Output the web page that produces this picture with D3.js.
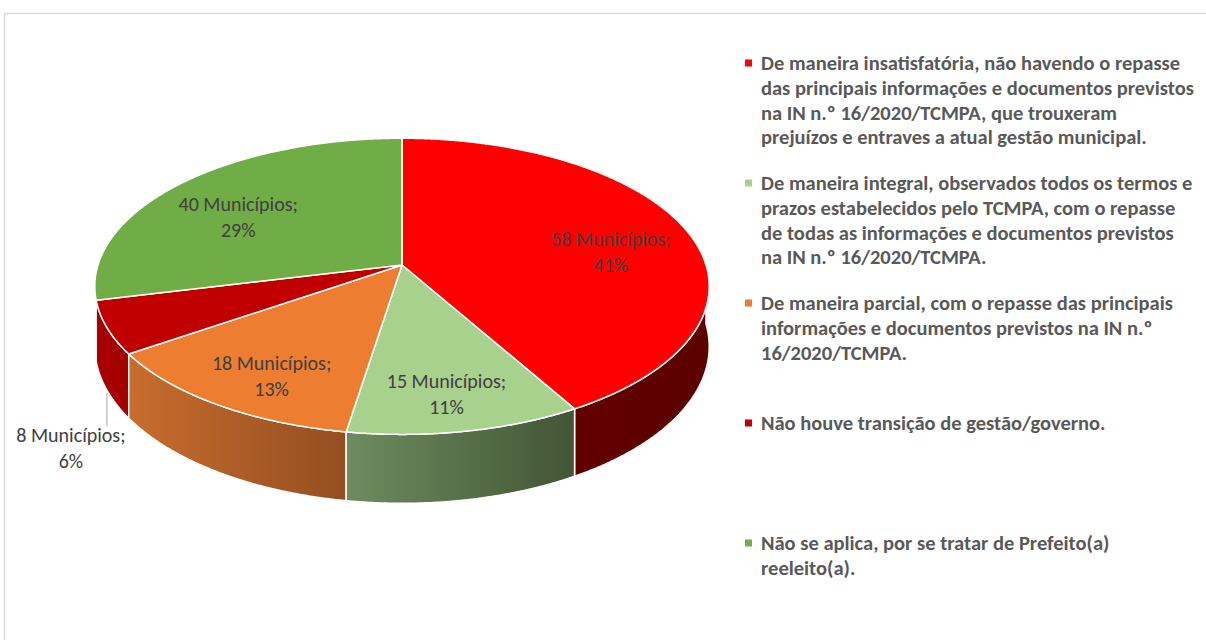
<!DOCTYPE html>
<html>
<head>
<meta charset="utf-8">
<script src="https://cdn.jsdelivr.net/npm/d3@7/dist/d3.min.js"></script>
<style>
  body { margin: 0; background: #fff; }
  svg { display: block; }
</style>
</head>
<body>
<svg id="chart"></svg>
<script>
// slice data, in drawing order (clockwise from 12 o'clock)
const legendLines = [
    ["De maneira insatisfatória, não havendo o repasse",
     "das principais informações e documentos previstos",
     "na IN n.º 16/2020/TCMPA, que trouxeram",
     "prejuízos e entraves a atual gestão municipal."],
    ["De maneira integral, observados todos os termos e",
     "prazos estabelecidos pelo TCMPA, com o repasse",
     "de todas as informações e documentos previstos",
     "na IN n.º 16/2020/TCMPA."],
    ["De maneira parcial, com o repasse das principais",
     "informações e documentos previstos na IN n.º",
     "16/2020/TCMPA."],
    ["Não houve transição de gestão/governo."],
    ["Não se aplica, por se tratar de Prefeito(a)",
     "reeleito(a)."]
];
const counts = [58, 15, 18, 8, 40];
const countLabels = ["58 Municípios;", "15 Municípios;", "18 Municípios;", "8 Municípios;", "40 Municípios;"];
const percentLabels = ["41%", "11%", "13%", "6%", "29%"];
const topColors = ["#ff0000", "#a9d18e", "#ed7d31", "#c00000", "#70ad47"];
const sideColors = [["#620000", "#5c0000"], ["#6e8c5f", "#425536"], ["#c86d2e", "#934e20"], ["#a90000", "#a30000"], ["#4f7a32", "#3d5f27"]];

const width = 1206, height = 640;

const svg = d3.select('#chart')
    .attr('width', width)
    .attr('height', height);

// frame of the chart area
svg.append('rect')
    .attr('x', 4.5)
    .attr('y', 13.5)
    .attr('width', width + 20)
    .attr('height', height + 20)
    .attr('fill', 'none')
    .attr('stroke', '#d9d9d9')
    .attr('stroke-width', 1.5);

// perspective view of the pie
const cx = 402, cy = 265;
const rx = 304, ry = 145, persp = 0.144, depth = 59;

function project(theta, r, z) {
    const u = -Math.cos(theta) * r;
    const s = 1 / (1 - persp * u);
    const sRim = 1 / (1 - persp * -Math.cos(theta));
    return [cx + rx * r * Math.sin(theta) * s, cy + ry * u * s + z * depth * sRim];
}

function arcPoints(a0, a1, r, z) {
    const n = Math.max(2, Math.ceil((a1 - a0) / 0.005));
    return d3.range(n + 1).map(i => project(a0 + (a1 - a0) * i / n, r, z));
}

const pie = d3.pie().sort(null).value(d => d);
const slices = pie(counts).map((d, i) => Object.assign(d, { i: i }));

const line = d3.line();
const defs = svg.append('defs');

// side walls, only the front half is visible
const front0 = Math.PI / 2, front1 = Math.PI * 3 / 2;
const walls = slices
    .map(d => ({ d: d, a0: Math.max(d.startAngle, front0), a1: Math.min(d.endAngle, front1) }))
    .filter(w => w.a1 > w.a0)
    .sort((a, b) => Math.cos((b.a0 + b.a1) / 2) - Math.cos((a.a0 + a.a1) / 2));

const wallLayer = svg.append('g');
walls.forEach(w => {
    const topEdge = arcPoints(w.a0, w.a1, 1, 0);
    const bottomEdge = arcPoints(w.a0, w.a1, 1, 1).reverse();
    const xs = topEdge.map(p => p[0]);
    const gradId = 'side' + w.d.i;
    const grad = defs.append('linearGradient')
        .attr('id', gradId)
        .attr('gradientUnits', 'userSpaceOnUse')
        .attr('x1', d3.min(xs)).attr('x2', d3.max(xs))
        .attr('y1', 0).attr('y2', 0);
    grad.append('stop').attr('offset', 0).attr('stop-color', sideColors[w.d.i][0]);
    grad.append('stop').attr('offset', 1).attr('stop-color', sideColors[w.d.i][1]);

    wallLayer.append('path')
        .attr('d', line(topEdge.concat(bottomEdge)) + 'Z')
        .attr('fill', `url(#${gradId})`)
        .attr('stroke', '#ffffff')
        .attr('stroke-width', 1.5)
        .attr('stroke-linejoin', 'round');
});

// top faces
svg.append('g').selectAll('path')
    .data(slices)
    .enter().append('path')
    .attr('d', d => line([[cx, cy]].concat(arcPoints(d.startAngle, d.endAngle, 1, 0))) + 'Z')
    .attr('fill', d => topColors[d.i])
    .attr('stroke', '#ffffff')
    .attr('stroke-width', 1.5)
    .attr('stroke-linejoin', 'round');

// data labels
const labelFont = "Carlito, Calibri, Lato, 'Liberation Sans', sans-serif";
const labelLayer = svg.append('g')
    .attr('font-family', labelFont)
    .attr('font-size', 20)
    .attr('fill', '#404040')
    .attr('text-anchor', 'middle');

slices.forEach(d => {
    const mid = (d.startAngle + d.endAngle) / 2;
    let x, y;
    if (d.endAngle - d.startAngle < 0.4) {
        // small slice: label outside with a leader line
        const p = project(mid, 1, 1);
        labelLayer.append('line')
            .attr('x1', p[0]).attr('x2', p[0])
            .attr('y1', p[1] + 3).attr('y2', p[1] + 36)
            .attr('stroke', '#a6a6a6')
            .attr('stroke-width', 1);
        x = p[0] - 36;
        y = p[1] + 58;
    } else {
        const p = project(mid, 0.73, 0);
        x = p[0];
        y = p[1] + 13;
    }
    labelLayer.append('text')
        .attr('x', x).attr('y', y - 13)
        .attr('dominant-baseline', 'central')
        .text(countLabels[d.i]);
    labelLayer.append('text')
        .attr('x', x).attr('y', y + 13)
        .attr('dominant-baseline', 'central')
        .text(percentLabels[d.i]);
});

// legend
const legend = svg.append('g')
    .attr('font-family', labelFont)
    .attr('font-weight', 'bold')
    .attr('font-size', 20.5)
    .attr('fill', '#595959');

const legendY = d3.scalePoint()
    .domain(d3.range(legendLines.length))
    .range([63, 543]);

legendLines.forEach((lines, i) => {
    const y0 = legendY(i);
    legend.append('rect')
        .attr('x', 745).attr('y', y0 - 3.5)
        .attr('width', 7).attr('height', 7)
        .attr('fill', topColors[i]);
    lines.forEach((t, j) => {
        legend.append('text')
            .attr('x', 761)
            .attr('y', y0 + j * 24.8)
            .attr('dominant-baseline', 'central')
            .text(t);
    });
});
</script>
</body>
</html>
